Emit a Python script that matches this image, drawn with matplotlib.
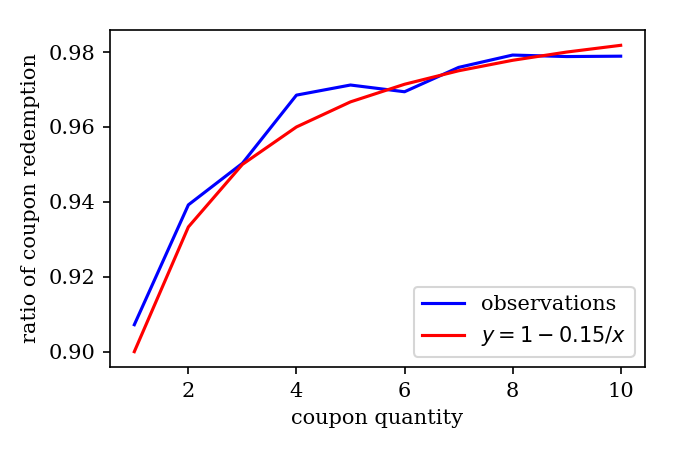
import matplotlib
matplotlib.use("Agg")
import matplotlib.pyplot as plt

plt.rcParams['font.family'] = 'DejaVu Serif'

quantity = [1, 2, 3, 4, 5, 6, 7, 8, 9, 10]
observations = [0.9072, 0.9392, 0.9503, 0.9685, 0.9712, 0.9694, 0.9759, 0.9792, 0.9788, 0.9789]
model = [0.9, 0.9333, 0.95, 0.96, 0.9667, 0.9714, 0.975, 0.9778, 0.98, 0.9818]

fig, ax = plt.subplots(figsize=(4.5, 3), dpi=150)
fig.subplots_adjust(left=110/675, right=645/675, top=1-30/450, bottom=1-367/450)
ax.plot(quantity, observations, color='blue', label='observations')
ax.plot(quantity, model, color='red', label=r'$y = 1 - 0.15/x$')
ax.set_xlabel('coupon quantity')
ax.set_ylabel('ratio of coupon redemption')
ax.set_xticks([2, 4, 6, 8, 10])
ax.set_yticks([0.90, 0.92, 0.94, 0.96, 0.98])
ax.legend(loc='lower right')
fig.savefig('out.png', dpi=150)
